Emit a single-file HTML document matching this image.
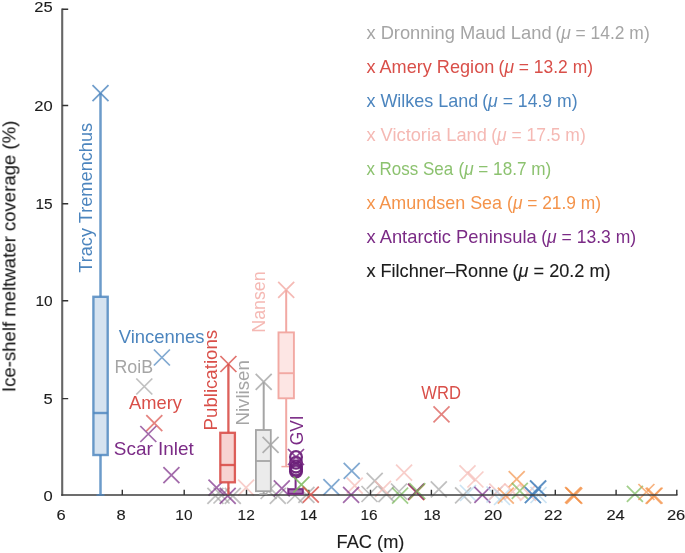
<!DOCTYPE html>
<html><head><meta charset="utf-8"><title>FAC vs meltwater coverage</title>
<style>html,body{margin:0;padding:0;background:#fff}svg{display:block}text{font-family:"Liberation Sans",sans-serif;stroke-width:0.12px;paint-order:stroke fill}</style></head>
<body><svg width="685" height="553" viewBox="0 0 685 553">
<rect width="685" height="553" fill="#fff"/>
<g opacity="0.999">
<g id="scatter">
<path d="M207.4 487.9L223.4 503.9M207.4 503.9L223.4 487.9" stroke="#a5a5a5" stroke-width="1.75" fill="none" opacity="0.7"/>
<path d="M213.5 487.5L229.5 503.5M213.5 503.5L229.5 487.5" stroke="#a5a5a5" stroke-width="1.75" fill="none" opacity="0.7"/>
<path d="M224.8 487.9L240.8 503.9M224.8 503.9L240.8 487.9" stroke="#a5a5a5" stroke-width="1.75" fill="none" opacity="0.7"/>
<path d="M208.5 479.7L224.5 495.7M208.5 495.7L224.5 479.7" stroke="#7b2b86" stroke-width="1.75" fill="none" opacity="0.7"/>
<path d="M219.7 487.9L235.7 503.9M219.7 503.9L235.7 487.9" stroke="#7b2b86" stroke-width="1.75" fill="none" opacity="0.7"/>
<path d="M238.1 479.7L254.1 495.7M238.1 495.7L254.1 479.7" stroke="#f5b9b4" stroke-width="1.75" fill="none" opacity="0.7"/>
<path d="M269.8 487.9L285.8 503.9M269.8 503.9L285.8 487.9" stroke="#a5a5a5" stroke-width="1.75" fill="none" opacity="0.7"/>
<path d="M260.6 483.0L276.6 499.0M260.6 499.0L276.6 483.0" stroke="#a5a5a5" stroke-width="1.75" fill="none" opacity="0.7"/>
<path d="M273.8 480.3L289.8 496.3M273.8 496.3L289.8 480.3" stroke="#7b2b86" stroke-width="1.75" fill="none" opacity="0.7"/>
<path d="M287.0 487.5L303.0 503.5M287.0 503.5L303.0 487.5" stroke="#a5a5a5" stroke-width="1.75" fill="none" opacity="0.7"/>
<path d="M298.4 486.9L314.4 502.9M298.4 502.9L314.4 486.9" stroke="#a5a5a5" stroke-width="1.75" fill="none" opacity="0.7"/>
<path d="M323.4 479.2L339.4 495.2M323.4 495.2L339.4 479.2" stroke="#4c85be" stroke-width="1.75" fill="none" opacity="0.7"/>
<path d="M343.7 462.9L359.7 478.9M343.7 478.9L359.7 462.9" stroke="#4c85be" stroke-width="1.75" fill="none" opacity="0.7"/>
<path d="M346.7 477.7L362.7 493.7M346.7 493.7L362.7 477.7" stroke="#f5b9b4" stroke-width="1.75" fill="none" opacity="0.7"/>
<path d="M343.1 486.9L359.1 502.9M343.1 502.9L359.1 486.9" stroke="#7b2b86" stroke-width="1.75" fill="none" opacity="0.7"/>
<path d="M366.7 472.9L382.7 488.9M366.7 488.9L382.7 472.9" stroke="#a5a5a5" stroke-width="1.75" fill="none" opacity="0.7"/>
<path d="M361.5 486.0L377.5 502.0M361.5 502.0L377.5 486.0" stroke="#a5a5a5" stroke-width="1.75" fill="none" opacity="0.7"/>
<path d="M378.4 486.2L394.4 502.2M378.4 502.2L394.4 486.2" stroke="#a5a5a5" stroke-width="1.75" fill="none" opacity="0.7"/>
<path d="M391.0 483.5L407.0 499.5M391.0 499.5L407.0 483.5" stroke="#a5a5a5" stroke-width="1.75" fill="none" opacity="0.7"/>
<path d="M375.0 480.8L391.0 496.8M375.0 496.8L391.0 480.8" stroke="#f5b9b4" stroke-width="1.75" fill="none" opacity="0.7"/>
<path d="M392.1 487.6L408.1 503.6M392.1 503.6L408.1 487.6" stroke="#7aba5a" stroke-width="1.75" fill="none" opacity="0.7"/>
<path d="M396.1 464.6L412.1 480.6M396.1 480.6L412.1 464.6" stroke="#f5b9b4" stroke-width="1.75" fill="none" opacity="0.7"/>
<path d="M408.4 484.2L424.4 500.2M408.4 500.2L424.4 484.2" stroke="#f4934a" stroke-width="1.75" fill="none" opacity="0.7"/>
<path d="M408.2 483.9L424.2 499.9M408.2 499.9L424.2 483.9" stroke="#d94f49" stroke-width="1.75" fill="none" opacity="0.7"/>
<path d="M408.0 483.7L424.0 499.7M408.0 499.7L424.0 483.7" stroke="#7b2b86" stroke-width="1.75" fill="none" opacity="0.7"/>
<path d="M409.3 483.2L425.3 499.2M409.3 499.2L425.3 483.2" stroke="#7aba5a" stroke-width="1.75" fill="none" opacity="0.7"/>
<path d="M430.8 481.3L446.8 497.3M430.8 497.3L446.8 481.3" stroke="#a5a5a5" stroke-width="1.75" fill="none" opacity="0.7"/>
<path d="M459.5 465.4L475.5 481.4M459.5 481.4L475.5 465.4" stroke="#f5b9b4" stroke-width="1.75" fill="none" opacity="0.7"/>
<path d="M467.4 471.5L483.4 487.5M467.4 487.5L483.4 471.5" stroke="#f5b9b4" stroke-width="1.75" fill="none" opacity="0.7"/>
<path d="M455.1 487.3L471.1 503.3M455.1 503.3L471.1 487.3" stroke="#a5a5a5" stroke-width="1.75" fill="none" opacity="0.7"/>
<path d="M460.0 485.0L476.0 501.0M460.0 501.0L476.0 485.0" stroke="#b5d7ee" stroke-width="1.75" fill="none" opacity="0.7"/>
<path d="M474.4 486.8L490.4 502.8M474.4 502.8L490.4 486.8" stroke="#7b2b86" stroke-width="1.75" fill="none" opacity="0.7"/>
<path d="M486.5 486.5L502.5 502.5M486.5 502.5L502.5 486.5" stroke="#b5d7ee" stroke-width="1.75" fill="none" opacity="0.7"/>
<path d="M489.3 483.7L505.3 499.7M489.3 499.7L505.3 483.7" stroke="#f5b9b4" stroke-width="1.75" fill="none" opacity="0.7"/>
<path d="M494.0 489.0L510.0 505.0M494.0 505.0L510.0 489.0" stroke="#b5d7ee" stroke-width="1.75" fill="none" opacity="0.7"/>
<path d="M504.6 483.7L520.6 499.7M504.6 499.7L520.6 483.7" stroke="#f5b9b4" stroke-width="1.75" fill="none" opacity="0.7"/>
<path d="M520.0 484.8L536.0 500.8M520.0 500.8L536.0 484.8" stroke="#f5b9b4" stroke-width="1.75" fill="none" opacity="0.7"/>
<path d="M497.8 487.7L513.8 503.7M497.8 503.7L513.8 487.7" stroke="#f4934a" stroke-width="1.75" fill="none" opacity="0.7"/>
<path d="M508.7 471.1L524.7 487.1M508.7 487.1L524.7 471.1" stroke="#f4934a" stroke-width="1.75" fill="none" opacity="0.7"/>
<path d="M511.8 482.9L527.8 498.9M511.8 498.9L527.8 482.9" stroke="#7aba5a" stroke-width="1.75" fill="none" opacity="0.7"/>
<path d="M530.5 487.0L546.5 503.0M530.5 503.0L546.5 487.0" stroke="#b5d7ee" stroke-width="1.75" fill="none" opacity="0.7"/>
<path d="M530.0 480.4L546.0 496.4M530.0 496.4L546.0 480.4" stroke="#4c85be" stroke-width="1.75" fill="none" opacity="0.7"/>
<path d="M524.8 487.0L540.8 503.0M524.8 503.0L540.8 487.0" stroke="#4c85be" stroke-width="1.75" fill="none" opacity="0.7"/>
<path d="M530.2 480.6L546.2 496.6M530.2 496.6L546.2 480.6" stroke="#4c85be" stroke-width="1.75" fill="none" opacity="0.7"/>
<path d="M525.0 487.2L541.0 503.2M525.0 503.2L541.0 487.2" stroke="#4c85be" stroke-width="1.75" fill="none" opacity="0.7"/>
<path d="M565.6 487.3L581.6 503.3M565.6 503.3L581.6 487.3" stroke="#f4934a" stroke-width="1.75" fill="none" opacity="0.7"/>
<path d="M565.0 487.0L581.0 503.0M565.0 503.0L581.0 487.0" stroke="#f4934a" stroke-width="1.75" fill="none" opacity="0.7"/>
<path d="M566.3 487.8L582.3 503.8M566.3 503.8L582.3 487.8" stroke="#f4934a" stroke-width="1.75" fill="none" opacity="0.7"/>
<path d="M626.9 485.8L642.9 501.8M626.9 501.8L642.9 485.8" stroke="#7aba5a" stroke-width="1.75" fill="none" opacity="0.7"/>
<path d="M638.4 484.0L654.4 500.0M638.4 500.0L654.4 484.0" stroke="#f4934a" stroke-width="1.75" fill="none" opacity="0.7"/>
<path d="M645.6 487.8L661.6 503.8M645.6 503.8L661.6 487.8" stroke="#f4934a" stroke-width="1.75" fill="none" opacity="0.7"/>
<path d="M646.6 487.6L662.6 503.6M646.6 503.6L662.6 487.6" stroke="#f4934a" stroke-width="1.75" fill="none" opacity="0.7"/>
<path d="M153.9 349.5L169.9 365.5M153.9 365.5L169.9 349.5" stroke="#4c85be" stroke-width="1.75" fill="none" opacity="0.7"/>
<path d="M136.3 378.5L152.3 394.5M136.3 394.5L152.3 378.5" stroke="#a5a5a5" stroke-width="1.75" fill="none" opacity="0.7"/>
<path d="M146.3 415.2L162.3 431.2M146.3 431.2L162.3 415.2" stroke="#d94f49" stroke-width="1.75" fill="none" opacity="0.7"/>
<path d="M140.3 426.0L156.3 442.0M140.3 442.0L156.3 426.0" stroke="#7b2b86" stroke-width="1.75" fill="none" opacity="0.7"/>
<path d="M163.4 467.2L179.4 483.2M163.4 483.2L179.4 467.2" stroke="#7b2b86" stroke-width="1.75" fill="none" opacity="0.7"/>
<path d="M433.5 406.4L449.5 422.4M433.5 422.4L449.5 406.4" stroke="#d94f49" stroke-width="1.75" fill="none" opacity="0.7"/>
</g>
<g id="axes" stroke="#4d4d4d" fill="none">
<path d="M62.2 8.6V495.8" stroke-width="2.1" stroke="#666"/>
<path d="M61.2 495.1H677.5" stroke-width="1.5" stroke="#3d3d3d"/>
<path d="M62.2 398.6H68.2M62.2 300.8H68.2M62.2 203.8H68.2M62.2 105.5H68.2M62.2 9.2H68.2M122.3 495.1V489.8M184.2 495.1V489.8M246.5 495.1V489.8M308.8 495.1V489.8M370.5 495.1V489.8M431.4 495.1V489.8M492.5 495.1V489.8M555.3 495.1V489.8M616.1 495.1V489.8M676.8 495.1V489.8" stroke-width="1.4" stroke="#333"/>
</g>
<g id="ticklabels" font-size="15.2" fill="#1c1c1c" stroke="#1c1c1c">
<text x="43.5" y="501.3" textLength="9.2" lengthAdjust="spacingAndGlyphs">0</text>
<text x="43.5" y="404.1" textLength="9.2" lengthAdjust="spacingAndGlyphs">5</text>
<text x="35.5" y="306.4" textLength="17.2" lengthAdjust="spacingAndGlyphs">10</text>
<text x="35.5" y="208.9" textLength="17.2" lengthAdjust="spacingAndGlyphs">15</text>
<text x="34.3" y="110.7" textLength="18.4" lengthAdjust="spacingAndGlyphs">20</text>
<text x="34.3" y="12.4" textLength="18.4" lengthAdjust="spacingAndGlyphs">25</text>
<text x="56.6" y="520.0" textLength="9.2" lengthAdjust="spacingAndGlyphs">6</text>
<text x="116.5" y="520.0" textLength="9.2" lengthAdjust="spacingAndGlyphs">8</text>
<text x="175.3" y="520.0" textLength="17.2" lengthAdjust="spacingAndGlyphs">10</text>
<text x="237.6" y="520.0" textLength="17.2" lengthAdjust="spacingAndGlyphs">12</text>
<text x="299.9" y="520.0" textLength="17.2" lengthAdjust="spacingAndGlyphs">14</text>
<text x="360.5" y="520.0" textLength="17.2" lengthAdjust="spacingAndGlyphs">16</text>
<text x="423.4" y="520.0" textLength="17.2" lengthAdjust="spacingAndGlyphs">18</text>
<text x="483.9" y="520.0" textLength="18.4" lengthAdjust="spacingAndGlyphs">20</text>
<text x="544.1" y="520.0" textLength="18.4" lengthAdjust="spacingAndGlyphs">22</text>
<text x="606.4" y="520.0" textLength="18.4" lengthAdjust="spacingAndGlyphs">24</text>
<text x="666.9" y="520.0" textLength="18.4" lengthAdjust="spacingAndGlyphs">26</text>
</g>
<text transform="translate(15.4 392.1) rotate(-90)" font-size="17.7" fill="#1c1c1c" stroke="#1c1c1c" textLength="271.4" lengthAdjust="spacingAndGlyphs">Ice-shelf meltwater coverage (%)</text>
<text x="336.6" y="547.7" font-size="17.7" fill="#1c1c1c" stroke="#1c1c1c" textLength="67.8" lengthAdjust="spacingAndGlyphs">FAC (m)</text>
<g stroke="#4c85be" fill="none" stroke-opacity="0.82">
<path d="M100.5 93.1V296.8M100.5 455.0V495.0" stroke-width="2.5"/>
<path d="M96.5 495.0H104.5" stroke-width="1.5"/>
<rect x="93.4" y="296.8" width="14.3" height="158.2" fill="#d6e3f0" stroke-width="2.4"/>
<path d="M93.4 413.0H107.7" stroke-width="2.4"/>
</g>
<path d="M92.5 85.1L108.5 101.1M92.5 101.1L108.5 85.1" stroke="#4c85be" stroke-width="1.75" fill="none" opacity="0.8"/>
<g stroke="#d94f49" fill="none" stroke-opacity="0.9">
<path d="M228.4 364.0V432.8M228.4 482.3V494.5" stroke-width="2.3"/>
<rect x="220.3" y="432.8" width="14.6" height="49.5" fill="#f7d3d1" stroke-width="2.3"/>
<path d="M220.3 465.0H234.9" stroke-width="2.3"/>
</g>
<path d="M220.4 356.0L236.4 372.0M220.4 372.0L236.4 356.0" stroke="#d94f49" stroke-width="1.75" fill="none" opacity="0.8"/>
<g stroke="#a5a5a5" fill="none" stroke-opacity="1">
<path d="M263.7 381.8V430.0M263.7 491.2V494.0" stroke-width="2.0"/>
<path d="M259.4 494.0H267.4" stroke-width="1.5"/>
<rect x="255.9" y="430.0" width="14.9" height="61.2" fill="#ebebeb" stroke-width="1.8"/>
<path d="M255.9 461.0H270.8" stroke-width="1.8"/>
</g>
<path d="M255.7 373.8L271.7 389.8M255.7 389.8L271.7 373.8" stroke="#a5a5a5" stroke-width="1.75" fill="none" opacity="0.8"/>
<g stroke="#f2a9a3" fill="none" stroke-opacity="1">
<path d="M286.2 289.9V332.4M286.2 398.3V466.6" stroke-width="2.0"/>
<path d="M281.4 466.6H291.0" stroke-width="1.5"/>
<rect x="278.5" y="332.4" width="15.4" height="65.9" fill="#fde6e4" stroke-width="1.9"/>
<path d="M278.5 373.2H293.9" stroke-width="1.9"/>
</g>
<path d="M278.2 281.9L294.2 297.9M278.2 297.9L294.2 281.9" stroke="#f2a9a3" stroke-width="1.75" fill="none" opacity="0.8"/>
<g stroke="#7b2b86" fill="none">
<path d="M295.6 477.5V488.5" stroke-width="2"/>
<rect x="288.3" y="489.2" width="14.5" height="4.6" fill="#a877b3" stroke-width="2"/>
<circle cx="296.0" cy="457.0" r="5.9" stroke-width="2.3" stroke="#6c2079" opacity="0.95"/>
<circle cx="296.0" cy="462.8" r="5.9" stroke-width="2.3" stroke="#6c2079" opacity="0.95"/>
<circle cx="296.0" cy="466.6" r="5.9" stroke-width="2.3" stroke="#6c2079" opacity="0.95"/>
<circle cx="296.0" cy="469.4" r="5.9" stroke-width="2.3" stroke="#6c2079" opacity="0.95"/>
<circle cx="296.0" cy="471.4" r="5.9" stroke-width="2.3" stroke="#6c2079" opacity="0.95"/>
</g>
<path d="M288.0 449.0L304.0 465.0M288.0 465.0L304.0 449.0" stroke="#7b2b86" stroke-width="1.75" fill="none" opacity="0.85"/>
<path d="M262.6 436.8L278.6 452.8M262.6 452.8L278.6 436.8" stroke="#a5a5a5" stroke-width="1.75" fill="none" opacity="0.85"/>
<path d="M293.4 476.7L309.4 492.7M293.4 492.7L309.4 476.7" stroke="#7aba5a" stroke-width="1.75" fill="none" opacity="0.85"/>
<path d="M302.8 486.6L318.8 502.6M302.8 502.6L318.8 486.6" stroke="#d94f49" stroke-width="1.75" fill="none" opacity="0.8"/>
<text transform="translate(91.8 272.8) rotate(-90)" font-size="17.7" fill="#4c85be" textLength="150" lengthAdjust="spacingAndGlyphs">Tracy Tremenchus</text>
<text transform="translate(217.1 430.4) rotate(-90)" font-size="17.7" fill="#d94f49" textLength="100.5" lengthAdjust="spacingAndGlyphs">Publications</text>
<text transform="translate(249.2 425.5) rotate(-90)" font-size="17.7" fill="#a5a5a5" textLength="65.3" lengthAdjust="spacingAndGlyphs">Nivlisen</text>
<text transform="translate(265.0 332.7) rotate(-90)" font-size="17.7" fill="#f5b9b4" textLength="61.3" lengthAdjust="spacingAndGlyphs">Nansen</text>
<text transform="translate(303.3 445.2) rotate(-90)" font-size="17.7" fill="#7b2b86" textLength="29.8" lengthAdjust="spacingAndGlyphs">GVI</text>
<text x="118.8" y="343.1" font-size="17.7" fill="#4c85be" textLength="85.7" lengthAdjust="spacingAndGlyphs">Vincennes</text>
<text x="114.4" y="373.0" font-size="17.7" fill="#a5a5a5" textLength="38.7" lengthAdjust="spacingAndGlyphs">RoiB</text>
<text x="129.0" y="409.0" font-size="17.7" fill="#d94f49" textLength="52.9" lengthAdjust="spacingAndGlyphs">Amery</text>
<text x="113.8" y="455.0" font-size="17.7" fill="#7b2b86" textLength="80" lengthAdjust="spacingAndGlyphs">Scar Inlet</text>
<text x="421.3" y="398.6" font-size="17.7" fill="#d94f49" textLength="39.7" lengthAdjust="spacingAndGlyphs">WRD</text>
<g id="legend" font-size="17.7">
<text x="366.4" y="38.7" fill="#a5a5a5" textLength="185.2" lengthAdjust="spacingAndGlyphs" xml:space="preserve">x Dronning Maud Land</text>
<text x="555.4" y="38.7" fill="#a5a5a5" textLength="94.3" lengthAdjust="spacingAndGlyphs" xml:space="preserve">(<tspan font-style="italic">μ</tspan> = 14.2 m)</text>
<text x="366.4" y="72.8" fill="#d94f49" textLength="127.9" lengthAdjust="spacingAndGlyphs" xml:space="preserve">x Amery Region</text>
<text x="498.6" y="72.8" fill="#d94f49" textLength="94.4" lengthAdjust="spacingAndGlyphs" xml:space="preserve">(<tspan font-style="italic">μ</tspan> = 13.2 m)</text>
<text x="366.4" y="106.8" fill="#4c85be" textLength="112.0" lengthAdjust="spacingAndGlyphs" xml:space="preserve">x Wilkes Land</text>
<text x="482.2" y="106.8" fill="#4c85be" textLength="95.4" lengthAdjust="spacingAndGlyphs" xml:space="preserve">(<tspan font-style="italic">μ</tspan> = 14.9 m)</text>
<text x="366.4" y="140.8" fill="#f5b9b4" textLength="120.5" lengthAdjust="spacingAndGlyphs" xml:space="preserve">x Victoria Land</text>
<text x="491.2" y="140.8" fill="#f5b9b4" textLength="94.5" lengthAdjust="spacingAndGlyphs" xml:space="preserve">(<tspan font-style="italic">μ</tspan> = 17.5 m)</text>
<text x="366.4" y="174.9" fill="#8cc26f" textLength="86.8" lengthAdjust="spacingAndGlyphs" xml:space="preserve">x Ross Sea</text>
<text x="458.5" y="174.9" fill="#8cc26f" textLength="92.7" lengthAdjust="spacingAndGlyphs" xml:space="preserve">(<tspan font-style="italic">μ</tspan> = 18.7 m)</text>
<text x="366.4" y="208.9" fill="#f4934a" textLength="135.7" lengthAdjust="spacingAndGlyphs" xml:space="preserve">x Amundsen Sea</text>
<text x="507.1" y="208.9" fill="#f4934a" textLength="94.0" lengthAdjust="spacingAndGlyphs" xml:space="preserve">(<tspan font-style="italic">μ</tspan> = 21.9 m)</text>
<text x="366.4" y="243.0" fill="#7b2b86" textLength="170.3" lengthAdjust="spacingAndGlyphs" xml:space="preserve">x Antarctic Peninsula</text>
<text x="541.2" y="243.0" fill="#7b2b86" textLength="95.0" lengthAdjust="spacingAndGlyphs" xml:space="preserve">(<tspan font-style="italic">μ</tspan> = 13.3 m)</text>
<text x="366.4" y="277.0" fill="#1c1c1c" stroke="#1c1c1c" textLength="142.0" lengthAdjust="spacingAndGlyphs" xml:space="preserve">x Filchner–Ronne</text>
<text x="512.6" y="277.0" fill="#1c1c1c" stroke="#1c1c1c" textLength="98.0" lengthAdjust="spacingAndGlyphs" xml:space="preserve">(<tspan font-style="italic">μ</tspan> = 20.2 m)</text>
</g>
</g>
</svg></body></html>
